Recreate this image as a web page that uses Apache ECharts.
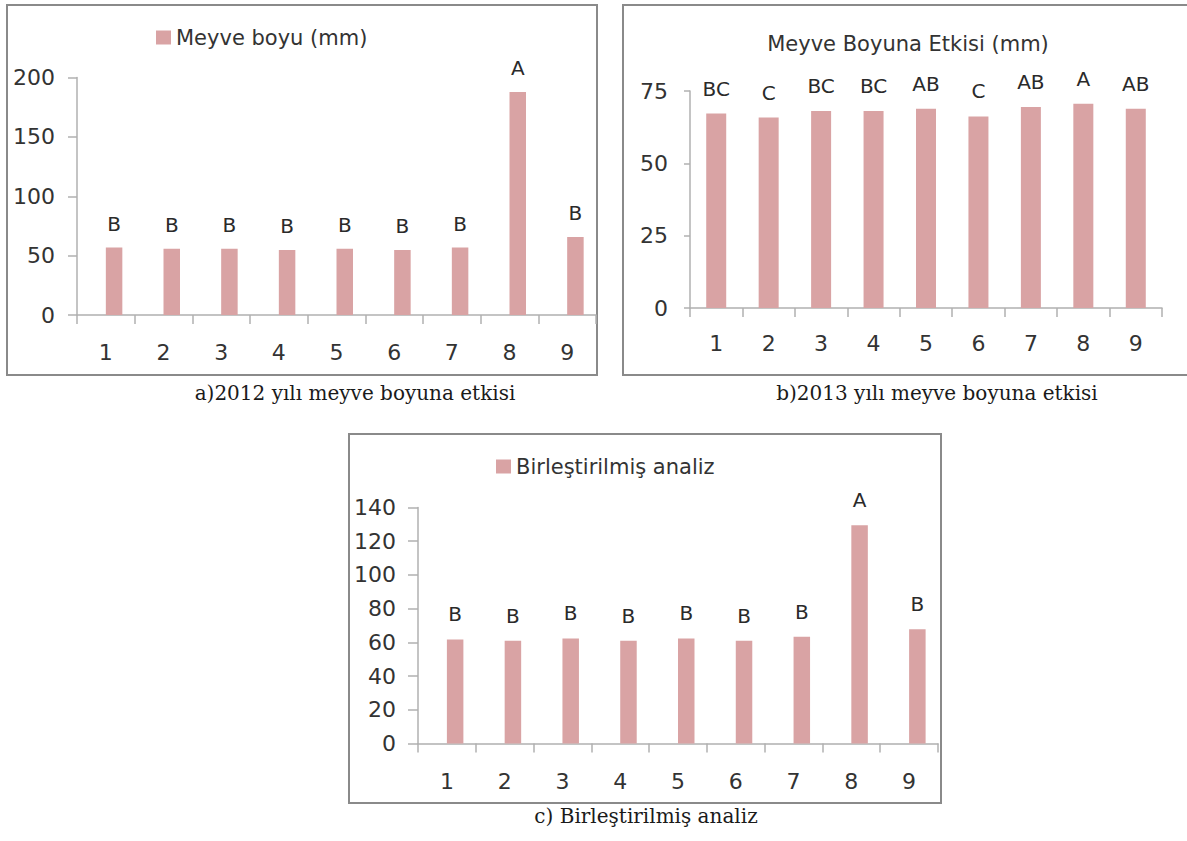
<!DOCTYPE html>
<html>
<head>
<meta charset="utf-8">
<title>Meyve boyu</title>
<script src="https://cdn.jsdelivr.net/npm/echarts@6/dist/echarts.min.js"></script>
<style>
  html, body { margin: 0; padding: 0; background: #ffffff; }
  #chart { width: 1187px; height: 841px; }
</style>
</head>
<body>
<div id="chart"></div>
<script>
// Treatment numbers on the category axis
const categories = ['1', '2', '3', '4', '5', '6', '7', '8', '9'];

// a) 2012 fruit length (mm) and significance groups
const length2012 = [56.8, 55.8, 55.8, 54.7, 55.8, 54.7, 56.8, 187.8, 65.7];
const groups2012 = ['B', 'B', 'B', 'B', 'B', 'B', 'B', 'A', 'B'];

// b) 2013 fruit length (mm) and significance groups
const length2013 = [67.2, 65.8, 68.1, 68.1, 68.9, 66.2, 69.5, 70.6, 68.9];
const groups2013 = ['BC', 'C', 'BC', 'BC', 'AB', 'C', 'AB', 'A', 'AB'];

// c) combined analysis and significance groups
const lengthCombined = [61.7, 60.9, 62.3, 60.9, 62.3, 60.9, 63.3, 129.5, 67.8];
const groupsCombined = ['B', 'B', 'B', 'B', 'B', 'B', 'B', 'A', 'B'];

// Value-axis tick settings per panel
const ticks2012 = { min: 0, max: 200, interval: 50 };
const ticks2013 = { min: 0, max: 75, interval: 25 };
const ticksCombined = { min: 0, max: 140, interval: 20 };

const SANS = '"DejaVu Sans", sans-serif';
const SERIF = '"DejaVu Serif", serif';
const BAR = '#d9a3a4';
const AXIS = '#b0b0b0';
const TEXT = '#333333';

function xAxisFor(grid, margin) {
  return {
    type: 'category', gridIndex: grid, data: categories,
    axisLine: { show: true, lineStyle: { color: AXIS, width: 1.5 } },
    axisTick: { show: true, length: 9, lineStyle: { color: AXIS, width: 1.5 } },
    axisLabel: { fontFamily: SANS, fontSize: 22, color: TEXT, margin: margin },
    splitLine: { show: false }
  };
}

function yAxisFor(grid, t, tickLen) {
  return {
    type: 'value', gridIndex: grid, min: t.min, max: t.max, interval: t.interval,
    axisLine: { show: true, lineStyle: { color: AXIS, width: 1.5 } },
    axisTick: { show: true, length: tickLen, lineStyle: { color: AXIS, width: 1.5 } },
    axisLabel: { fontFamily: SANS, fontSize: 22, color: TEXT, margin: 22 },
    splitLine: { show: false }
  };
}

function groupLabel(groups, dist) {
  return {
    show: true, position: 'top', distance: dist,
    fontFamily: SANS, fontSize: 20, color: '#2a2a2a',
    formatter: p => groups[p.dataIndex]
  };
}

// Empty slot that sits left of each bar, so bars start at the category centre
function spacer(grid, width) {
  return {
    name: 'spacer' + grid, type: 'bar', xAxisIndex: grid, yAxisIndex: grid,
    data: categories.map(() => '-'), barWidth: width, barGap: '0%',
    silent: true, legendHoverLink: false
  };
}

const chart = echarts.init(document.getElementById('chart'), null, { renderer: 'svg' });

chart.setOption({
  backgroundColor: '#ffffff',
  animation: false,
  title: [{
    text: 'Meyve Boyuna Etkisi (mm)',
    left: 908, top: 33, textAlign: 'center', padding: 0,
    textStyle: { fontFamily: SANS, fontSize: 21, fontWeight: 'normal', color: TEXT }
  }],
  legend: [
    {
      data: ['Meyve boyu (mm)'], left: 156, top: 27, padding: 0,
      itemWidth: 15, itemHeight: 14, icon: 'rect', selectedMode: false,
      textStyle: { fontFamily: SANS, fontSize: 21, color: TEXT }
    },
    {
      data: ['Birleştirilmiş analiz'], left: 496, top: 456, padding: 0,
      itemWidth: 15, itemHeight: 14, icon: 'rect', selectedMode: false,
      textStyle: { fontFamily: SANS, fontSize: 21, color: TEXT }
    }
  ],
  grid: [
    { left: 77, top: 77.5, width: 519, height: 237.5 },
    { left: 690, top: 91, width: 472, height: 217 },
    { left: 418, top: 507.5, width: 520, height: 236 }
  ],
  xAxis: [xAxisFor(0, 26), xAxisFor(1, 24), xAxisFor(2, 27)],
  yAxis: [
    yAxisFor(0, ticks2012, 9),
    yAxisFor(1, ticks2013, 6),
    yAxisFor(2, ticksCombined, 10)
  ],
  series: [
    spacer(0, 16.5),
    {
      name: 'Meyve boyu (mm)', type: 'bar', xAxisIndex: 0, yAxisIndex: 0,
      data: length2012, barWidth: 16.5, barGap: '0%',
      itemStyle: { color: BAR }, label: groupLabel(groups2012, 14)
    },
    {
      name: 'Meyve Boyuna Etkisi (mm)', type: 'bar', xAxisIndex: 1, yAxisIndex: 1,
      data: length2013, barWidth: 20,
      itemStyle: { color: BAR }, label: groupLabel(groups2013, 15)
    },
    spacer(2, 16.5),
    {
      name: 'Birleştirilmiş analiz', type: 'bar', xAxisIndex: 2, yAxisIndex: 2,
      data: lengthCombined, barWidth: 16.5, barGap: '0%',
      itemStyle: { color: BAR }, label: groupLabel(groupsCombined, 15)
    }
  ],
  graphic: [
    // panel frames
    { type: 'rect', z: 0, shape: { x: 7, y: 5, width: 590, height: 370 },
      style: { fill: 'none', stroke: '#8a8a8a', lineWidth: 2 } },
    { type: 'rect', z: 0, shape: { x: 623, y: 5, width: 580, height: 370 },
      style: { fill: 'none', stroke: '#8a8a8a', lineWidth: 2 } },
    { type: 'rect', z: 0, shape: { x: 349, y: 434, width: 592, height: 369 },
      style: { fill: 'none', stroke: '#8a8a8a', lineWidth: 2 } },
    // panel captions
    { type: 'text', x: 355, y: 393,
      style: { text: 'a)2012 yılı meyve boyuna etkisi', font: '20px ' + SERIF,
               fill: '#1a1a1a', align: 'center', verticalAlign: 'middle' } },
    { type: 'text', x: 937, y: 393,
      style: { text: 'b)2013 yılı meyve boyuna etkisi', font: '20px ' + SERIF,
               fill: '#1a1a1a', align: 'center', verticalAlign: 'middle' } },
    { type: 'text', x: 646, y: 816,
      style: { text: 'c) Birleştirilmiş analiz', font: '20px ' + SERIF,
               fill: '#1a1a1a', align: 'center', verticalAlign: 'middle' } }
  ]
});
</script>
</body>
</html>
